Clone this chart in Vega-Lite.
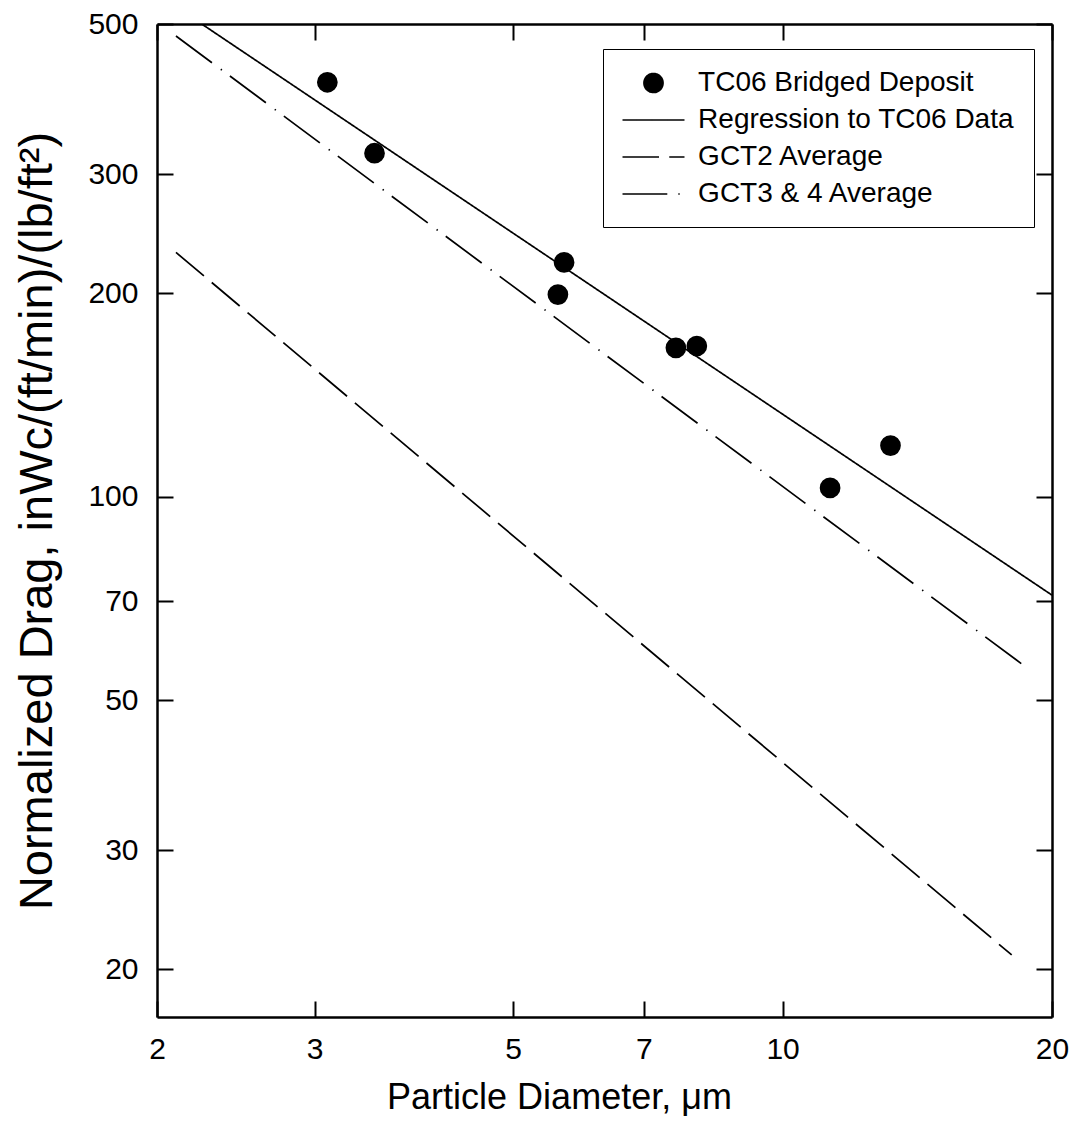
{
  "$schema": "https://vega.github.io/schema/vega-lite/v6.json",
  "width": 895,
  "height": 993,
  "autosize": "none",
  "padding": {"left": 157, "top": 24, "right": 24, "bottom": 125},
  "background": "white",
  "config": {"view": {"stroke": null}, "font": "Liberation Sans", "axis": {"grid": false}},
  "datasets": {
    "points": [
      {"series": "TC06 Bridged Deposit", "d": 3.10, "drag": 410},
      {"series": "TC06 Bridged Deposit", "d": 3.50, "drag": 322},
      {"series": "TC06 Bridged Deposit", "d": 5.70, "drag": 222},
      {"series": "TC06 Bridged Deposit", "d": 5.61, "drag": 199},
      {"series": "TC06 Bridged Deposit", "d": 7.60, "drag": 166},
      {"series": "TC06 Bridged Deposit", "d": 8.02, "drag": 167},
      {"series": "TC06 Bridged Deposit", "d": 13.2, "drag": 119},
      {"series": "TC06 Bridged Deposit", "d": 11.3, "drag": 103}
    ],
    "lines": [
      {"series": "Regression to TC06 Data", "d": 2.244, "drag": 500},
      {"series": "Regression to TC06 Data", "d": 20, "drag": 71.5},
      {"series": "GCT2 Average", "d": 2.10, "drag": 229.7},
      {"series": "GCT2 Average", "d": 18.03, "drag": 21.0},
      {"series": "GCT3 & 4 Average", "d": 2.10, "drag": 480},
      {"series": "GCT3 & 4 Average", "d": 18.9, "drag": 55.4}
    ]
  },
  "layer": [
    {
      "data": {"name": "lines"},
      "mark": {"type": "line", "color": "black", "strokeWidth": 1.7, "clip": true},
      "encoding": {
        "x": {
          "field": "d", "type": "quantitative",
          "scale": {"type": "log", "domain": [2, 20], "nice": false},
          "axis": {
            "orient": "bottom", "values": [2, 3, 5, 7, 10, 20], "format": "d",
            "tickSize": -16, "tickWidth": 2, "tickColor": "black",
            "domainColor": "black", "domainWidth": 2.5,
            "labelFontSize": 30, "labelFont": "Liberation Sans", "labelColor": "black",
            "labelPadding": 33, "labelFlush": false, "labelOverlap": false,
            "title": "Particle Diameter, μm", "titleFontSize": 36, "titleFont": "Liberation Sans",
            "titleFontWeight": "normal", "titleColor": "black",
            "titleX": 402, "titleY": 91, "titleAlign": "center", "titleBaseline": "alphabetic",
            "grid": false
          }
        },
        "y": {
          "field": "drag", "type": "quantitative",
          "scale": {"type": "log", "domain": [17, 500], "nice": false},
          "axis": {
            "orient": "left", "values": [20, 30, 50, 70, 100, 200, 300, 500], "format": "d",
            "tickSize": -16, "tickWidth": 2, "tickColor": "black",
            "domainColor": "black", "domainWidth": 2.5,
            "labelFontSize": 30, "labelFont": "Liberation Sans", "labelColor": "black",
            "labelPadding": 35, "labelFlush": false, "labelOverlap": false,
            "title": "Normalized Drag, inWc/(ft/min)/(lb/ft²)", "titleFontSize": 47, "titleFont": "Liberation Sans",
            "titleFontWeight": "normal", "titleColor": "black",
            "titleX": -106, "titleY": 496.5, "titleAngle": -90, "titleAlign": "center", "titleBaseline": "alphabetic",
            "grid": false
          }
        },
        "stroke": {
          "field": "series", "type": "nominal",
          "scale": {
            "domain": ["TC06 Bridged Deposit", "Regression to TC06 Data", "GCT2 Average", "GCT3 & 4 Average"],
            "range": ["black", "black", "black", "black"]
          },
          "legend": {
            "title": null, "orient": "none", "legendX": 446, "legendY": 25,
            "padding": 19, "strokeColor": "black", "fillColor": "white",
            "symbolSize": 784, "symbolStrokeWidth": 1.7, "symbolOffset": 16.5,
            "symbolStrokeColor": "black", "symbolFillColor": "black",
            "rowPadding": 8, "labelOffset": 29.6,
            "labelFontSize": 28, "labelFont": "Liberation Sans", "labelColor": "black", "labelLimit": 600
          }
        },
        "strokeDash": {
          "field": "series", "type": "nominal",
          "scale": {
            "domain": ["TC06 Bridged Deposit", "Regression to TC06 Data", "GCT2 Average", "GCT3 & 4 Average"],
            "range": [[1, 0], [1, 0], [36.5, 10.25], [44.8, 11, 1.4, 10]]
          },
          "legend": {
            "title": null, "orient": "none", "legendX": 446, "legendY": 25,
            "padding": 19, "strokeColor": "black", "fillColor": "white",
            "symbolSize": 784, "symbolStrokeWidth": 1.7, "symbolOffset": 16.5,
            "symbolStrokeColor": "black", "symbolFillColor": "black",
            "rowPadding": 8, "labelOffset": 29.6,
            "labelFontSize": 28, "labelFont": "Liberation Sans", "labelColor": "black", "labelLimit": 600
          }
        }
      }
    },
    {
      "data": {"name": "points"},
      "mark": {"type": "point", "filled": true, "color": "black", "stroke": "black", "strokeWidth": 1.7, "size": 784, "opacity": 1},
      "encoding": {
        "x": {
          "field": "d", "type": "quantitative",
          "scale": {"type": "log", "domain": [2, 20], "nice": false},
          "axis": {
            "orient": "top", "values": [2, 3, 5, 7, 10, 20], "labels": false, "title": null,
            "tickSize": -16, "tickWidth": 2, "tickColor": "black",
            "domainColor": "black", "domainWidth": 2.5, "grid": false
          }
        },
        "y": {
          "field": "drag", "type": "quantitative",
          "scale": {"type": "log", "domain": [17, 500], "nice": false},
          "axis": {
            "orient": "right", "values": [20, 30, 50, 70, 100, 200, 300, 500], "labels": false, "title": null,
            "tickSize": -16, "tickWidth": 2, "tickColor": "black",
            "domainColor": "black", "domainWidth": 2.5, "grid": false
          }
        },
        "shape": {
          "field": "series", "type": "nominal",
          "scale": {
            "domain": ["TC06 Bridged Deposit", "Regression to TC06 Data", "GCT2 Average", "GCT3 & 4 Average"],
            "range": ["M0.68,0A0.68,0.68,0,1,1,-0.68,0A0.68,0.68,0,1,1,0.68,0Z", "M-2.214,0L2.214,0", "M-2.214,0L2.214,0", "M-2.214,0L2.214,0"]
          },
          "legend": {
            "title": null, "orient": "none", "legendX": 446, "legendY": 25,
            "padding": 19, "strokeColor": "black", "fillColor": "white",
            "symbolSize": 784, "symbolStrokeWidth": 1.7, "symbolOffset": 16.5,
            "symbolStrokeColor": "black", "symbolFillColor": "black",
            "rowPadding": 8, "labelOffset": 29.6,
            "labelFontSize": 28, "labelFont": "Liberation Sans", "labelColor": "black", "labelLimit": 600
          }
        }
      }
    }
  ],
  "resolve": {"axis": {"x": "independent", "y": "independent"}}
}
